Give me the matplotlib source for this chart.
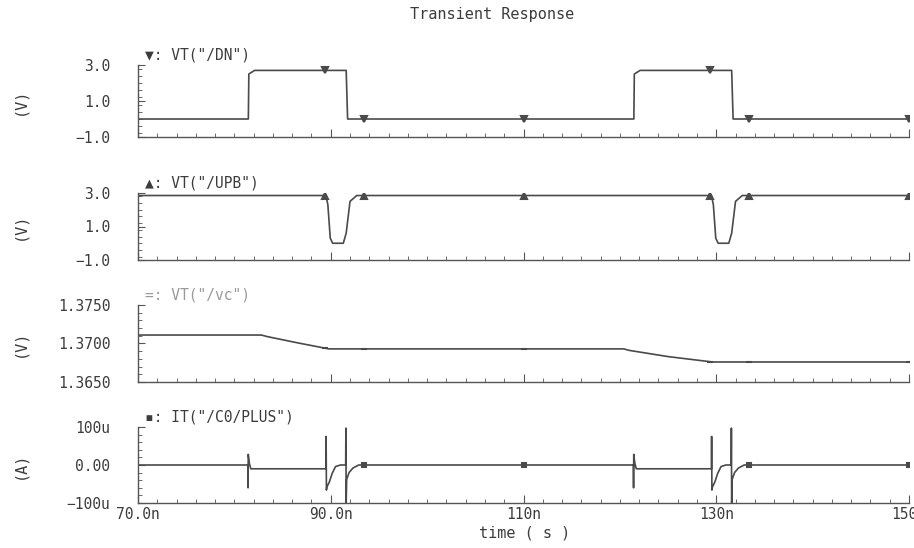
import numpy as np
import matplotlib
matplotlib.use('Agg')
import matplotlib.pyplot as plt
from matplotlib.ticker import MultipleLocator

# time in ns
t_dn = [70.0, 81.45, 81.5, 82.1, 91.6, 91.75, 121.45, 121.5, 122.1, 131.6, 131.75, 150.0]
v_dn = [0.0, 0.0, 2.5, 2.7, 2.7, 0.0, 0.0, 2.5, 2.7, 2.7, 0.0, 0.0]

t_upb = [70.0, 89.5, 89.7, 89.95, 90.2, 91.3, 91.6, 92.0, 92.7, 129.5, 129.7, 129.95, 130.2, 131.3, 131.6, 132.0, 132.7, 150.0]
v_upb = [2.85, 2.85, 2.3, 0.3, 0.0, 0.0, 0.6, 2.5, 2.85, 2.85, 2.3, 0.3, 0.0, 0.0, 0.6, 2.5, 2.85, 2.85]

t_vc = [70.0, 82.8, 83.4, 86.5, 89.8, 120.4, 121.0, 125.0, 129.6, 150.0]
v_vc = [1.3711, 1.3711, 1.3709, 1.3701, 1.3693, 1.3693, 1.3691, 1.3683, 1.3676, 1.3676]

t_ic = [70.0, 81.40, 81.42, 81.44, 81.47, 81.55, 81.70, 82.0, 89.50, 89.52, 89.55, 89.60, 89.85, 90.15, 90.50, 91.00,
        91.55, 91.57, 91.60, 91.65, 91.90, 92.30, 92.90,
        121.40, 121.42, 121.44, 121.47, 121.55, 121.70, 122.0, 129.50, 129.52, 129.55, 129.60, 129.85, 130.15, 130.50, 131.00,
        131.55, 131.57, 131.60, 131.65, 131.90, 132.30, 132.90, 150.0]
i_ic = [0, 0, -60, 28, 22, 5, -10, -10, -10, 75, -66, -58, -45, -22, -4, 0,
        0, 97, -100, -38, -20, -8, 0,
        0, -60, 28, 22, 5, -10, -10, -10, 75, -66, -58, -45, -22, -4, 0,
        0, 97, -100, -38, -20, -8, 0, 0]

mark_t = [89.4, 93.4, 110.0, 129.4, 133.4, 150.0]
ic_mark_t = [93.4, 110.0, 133.4, 150.0]

x_ticks = [70, 90, 110, 130, 150]
x_labels = ['70.0n', '90.0n', '110n', '130n', '150n']

line_c = '#4a4a4a'
txt_c = '#3c3c3c'
mono = 'DejaVu Sans Mono'

fig = plt.figure(figsize=(9.14, 5.48), dpi=100)
W, H = 914.0, 548.0

# (top, bottom) in pixels
boxes = [(65, 137), (193, 260), (305, 382), (427, 503)]
axes = []
for top, bot in boxes:
    ax = fig.add_axes([138 / W, 1 - bot / H, 771 / W, (bot - top) / H])
    axes.append(ax)

panels = [
    (t_dn, v_dn, (-1, 3), [-1, 1, 3], ['\u22121.0', '1.0', '3.0'], 0.4, 'v', '\u25bc: VT("/DN")', txt_c, '(V)'),
    (t_upb, v_upb, (-1, 3), [-1, 1, 3], ['\u22121.0', '1.0', '3.0'], 0.4, '^', '\u25b2: VT("/UPB")', txt_c, '(V)'),
    (t_vc, v_vc, (1.365, 1.375), [1.365, 1.370, 1.375], ['1.3650', '1.3700', '1.3750'], 0.001, '_', '=: VT("/vc")', '#9a9a9a', '(V)'),
    (t_ic, i_ic, (-100, 100), [-100, 0, 100], ['\u2212100u', '0.00', '100u'], 20, 's', '\u25aa: IT("/C0/PLUS")', txt_c, '(A)'),
]

for k, (ax, p) in enumerate(zip(axes, panels)):
    t, v, ylim, yt, yl, ymin, mk, lab, lab_c, ylab = p
    ax.plot(t, v, color=line_c, lw=1.2)
    mt = ic_mark_t if k == 3 else mark_t
    ax.plot(mt, np.interp(mt, t, v), linestyle='none', marker=mk, color=line_c,
            markersize=5 if mk != 's' else 3.5, mew=1.5)
    ax.set_xlim(70, 150)
    ax.set_ylim(*ylim)
    for s in ['top', 'right']:
        ax.spines[s].set_visible(False)
    for s in ['left', 'bottom']:
        ax.spines[s].set_color('#555555')
        ax.spines[s].set_linewidth(1.0)
    ax.set_xticks(x_ticks)
    ax.xaxis.set_minor_locator(MultipleLocator(2))
    ax.set_yticks(yt)
    ax.set_yticklabels(yl, fontsize=10.5, family=mono, color=txt_c)
    ax.yaxis.set_minor_locator(MultipleLocator(ymin))
    ax.tick_params(axis='both', which='both', direction='in', colors='#555555')
    ax.tick_params(axis='x', which='major', length=6)
    ax.tick_params(axis='x', which='minor', length=3)
    ax.tick_params(axis='y', which='major', length=5, pad=20, labelcolor=txt_c)
    ax.tick_params(axis='y', which='minor', length=3)
    if k == 3:
        ax.set_xticklabels(x_labels, fontsize=10.5, family=mono, color=txt_c)
        ax.tick_params(axis='x', which='major', pad=3, labelcolor=txt_c)
    else:
        ax.set_xticklabels([])
    ax.text(145 / W, 1 - (boxes[k][0] - 10) / H, lab, transform=fig.transFigure,
            fontsize=10.5, family=mono, color=lab_c, va='center', ha='left')
    fig.text(20 / W, 1 - (boxes[k][0] + boxes[k][1]) / 2 / H, ylab, rotation=90,
             fontsize=11, family=mono, color=txt_c, va='center', ha='center')

fig.text(492 / W, 1 - 15 / H, 'Transient Response', fontsize=11, family=mono,
         color=txt_c, ha='center', va='center')
fig.text(525 / W, 1 - 533 / H, 'time ( s )', fontsize=11, family=mono,
         color=txt_c, ha='center', va='center')

fig.savefig('out.png', dpi=100, facecolor='white')
